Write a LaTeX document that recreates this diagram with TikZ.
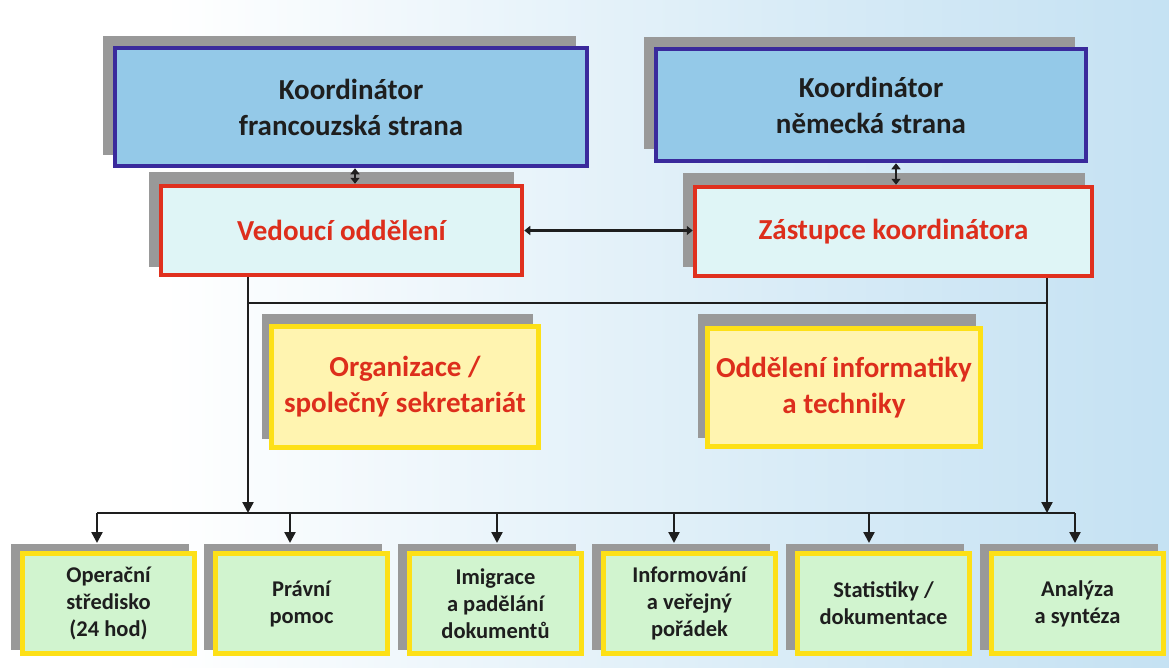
\documentclass[tikz,border=0pt]{standalone}
\usepackage{fontspec}
\setmainfont{Carlito}
\usetikzlibrary{arrows.meta}

\definecolor{bgblue}{HTML}{A6D2EC}
\definecolor{coordfill}{HTML}{94C9E8}
\definecolor{coordline}{HTML}{3A2A9C}
\definecolor{leadfill}{HTML}{DFF5F6}
\definecolor{leadline}{HTML}{E0301E}
\definecolor{unitfill}{HTML}{FFF4B0}
\definecolor{unitline}{HTML}{FDE017}
\definecolor{deskfill}{HTML}{D1F4CF}
\definecolor{shadowgray}{HTML}{999999}
\definecolor{inkred}{HTML}{DD2E1C}
\definecolor{ink}{HTML}{1E1E1E}

\pgfdeclarehorizontalshading{backdrop}{100bp}{%
  color(0bp)=(white); color(32bp)=(white); color(60bp)=(bgblue!45); color(100bp)=(bgblue)}

\tikzset{
  boxbase/.style={rectangle, align=center, inner sep=2pt},
  coordbox/.style={boxbase, fill=coordfill, draw=coordline, line width=4.5pt,
    text=ink, font=\bfseries\fontsize{29}{36}\selectfont},
  leadbox/.style={boxbase, fill=leadfill, draw=leadline, line width=4.5pt,
    text=inkred, font=\bfseries\fontsize{29}{36}\selectfont},
  unitbox/.style={boxbase, fill=unitfill, draw=unitline, line width=5pt,
    text=inkred, font=\bfseries\fontsize{29}{36}\selectfont},
  deskbox/.style={boxbase, fill=deskfill, draw=unitline, line width=5pt,
    text=ink, font=\bfseries\fontsize{22.5}{27}\selectfont,
    minimum width=172pt, minimum height=100pt},
  shadowrect/.style={fill=shadowgray},
  link/.style={draw=ink, line width=2.3pt},
  arr/.style={link, -{Triangle[length=11pt,width=11pt]}},
  darr/.style={link, {Triangle[length=6pt,width=9pt]}-{Triangle[length=6pt,width=9pt]}},
}

\begin{document}
\begin{tikzpicture}[x=1pt, y=-1pt]
  % backdrop
  \shade[shading=backdrop] (0,0) rectangle (1169,667);
  \useasboundingbox (0,0) rectangle (1169,667);

  % drop shadows behind the boxes
  \fill[shadowrect] (103,36) rectangle (576,155);
  \fill[shadowrect] (644,37) rectangle (1075,149);
  \fill[shadowrect] (149,172) rectangle (514,267);
  \fill[shadowrect] (683,173) rectangle (1085,267);
  \fill[shadowrect] (262,314) rectangle (533,439);
  \fill[shadowrect] (698,314) rectangle (976,438);
  \foreach \l in {20,213,407,601,795,989}
    \fill[shadowrect] (\l-9,544) rectangle (\l+169,650);

  % coordinators
  \node[coordbox, minimum width=472pt, minimum height=118pt] (kf) at (351,107)
    {Koordinátor\\francouzská strana};
  \node[coordbox, minimum width=430pt, minimum height=112pt] (kd) at (871,105)
    {Koordinátor\\německá strana};

  % leading roles
  \node[leadbox, minimum width=361pt, minimum height=89pt] (vo) at (341.5,230.5)
    {Vedoucí oddělení};
  \node[leadbox, minimum width=397pt, minimum height=89pt] (zk) at (893.5,231.5)
    {Zástupce koordinátora};

  % staff units
  \node[unitbox, minimum width=267pt, minimum height=121pt] (os) at (405,387)
    {Organizace /\\společný sekretariát};
  \node[unitbox, minimum width=273pt, minimum height=118pt] (oi) at (844,387.5)
    {Oddělení informatiky\\a techniky};

  % desks
  \node[deskbox] (b1) at (108.5,603.5) {Operační\\středisko\\(24 hod)};
  \node[deskbox] (b2) at (301.5,603.5) {Právní\\pomoc};
  \node[deskbox] (b3) at (495.5,603.5) {Imigrace\\a padělání\\dokumentů};
  \node[deskbox] (b4) at (689.5,603.5) {Informování\\a veřejný\\pořádek};
  \node[deskbox] (b5) at (883.5,603.5) {Statistiky /\\dokumentace};
  \node[deskbox] (b6) at (1077.5,603.5) {Analýza\\a syntéza};

  % links between coordinators and leading roles
  \draw[darr] (kf.south -| 355,0) -- (vo.north -| 355,0);
  \draw[darr] (kd.south -| 896,0) -- (zk.north -| 896,0);
  \draw[darr] (vo.east) -- (zk.west |- vo.east);

  % trunk lines down to the desk bus
  \coordinate (busL) at (97,513);
  \coordinate (busR) at (1075,513);
  \coordinate (joinL) at (248,303);
  \coordinate (joinR) at (1047,303);
  \draw[arr] (vo.south -| joinL) -- (joinL |- busL);
  \draw[arr] (zk.south -| joinR) -- (joinR |- busL);
  \draw[link] (joinL) -- (joinR);
  \draw[link] (busL) -- (busR);

  % drops to each desk
  \foreach \x/\n in {97/b1,290/b2,497/b3,674/b4,869/b5,1075/b6}
    \draw[arr] (\x,513) -- (\x,543);
\end{tikzpicture}
\end{document}
